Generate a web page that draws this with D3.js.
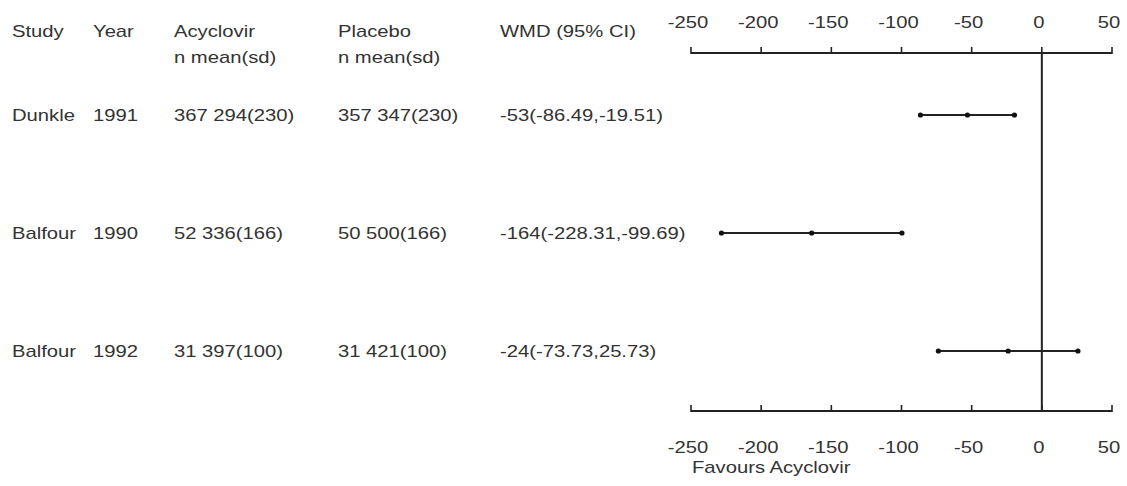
<!DOCTYPE html>
<html>
<head>
<meta charset="utf-8">
<script src="https://cdn.jsdelivr.net/npm/d3@7"></script>
<style>
  body { margin: 0; background: #fff; }
  text { font-family: "Liberation Sans", Arial, sans-serif; font-size: 17px; fill: #333; }
</style>
</head>
<body>
<script>
const studies = ['Dunkle', 'Balfour', 'Balfour']
const years = ['1991', '1990', '1992']
const acyclovir = ['367 294(230)', '52 336(166)', '31 397(100)']
const placebo = ['357 347(230)', '50 500(166)', '31 421(100)']
const wmd = [-53, -164, -24]
const lower = [-86.49, -228.31, -73.73]
const upper = [-19.51, -99.69, 25.73]
const wmdLabels = ['-53(-86.49,-19.51)', '-164(-228.31,-99.69)', '-24(-73.73,25.73)']
const xTicks = [-250, -200, -150, -100, -50, 0, 50]

const width = 1127, height = 486
const stretch = 1.19
const cols = { study: 12, year: 93, acy: 174, pla: 338, wmd: 500 }

const svg = d3.select('body').append('svg')
    .attr('width', width)
    .attr('height', height)

const x = d3.scaleLinear()
    .domain([-250, 50])
    .range([691, 1112])

const y = d3.scalePoint()
    .domain(d3.range(studies.length))
    .range([115, 351])

const topY = 53, bottomY = 411

const label = (g, tx, ty, str, anchor) => g.append('text')
    .attr('transform', `translate(${tx},${ty}) scale(${stretch},1)`)
    .attr('text-anchor', anchor || 'start')
    .text(str)

// header
label(svg, cols.study, 37, 'Study')
label(svg, cols.year, 37, 'Year')
label(svg, cols.acy, 37, 'Acyclovir')
label(svg, cols.acy, 63, 'n mean(sd)')
label(svg, cols.pla, 37, 'Placebo')
label(svg, cols.pla, 63, 'n mean(sd)')
label(svg, cols.wmd, 37, 'WMD (95% CI)')

// rows
studies.forEach((s, i) => {
    const ty = y(i) + 6
    label(svg, cols.study, ty, s)
    label(svg, cols.year, ty, years[i])
    label(svg, cols.acy, ty, acyclovir[i])
    label(svg, cols.pla, ty, placebo[i])
    label(svg, cols.wmd, ty, wmdLabels[i])
})

// axes (drawn by hand to keep ticks pointing up on both)
const drawAxis = (ay, labelY) => {
    const g = svg.append('g')
    g.append('line')
        .attr('x1', x(-250)).attr('x2', x(50))
        .attr('y1', ay).attr('y2', ay)
        .attr('stroke', '#222').attr('stroke-width', 2)
    xTicks.forEach(t => {
        g.append('line')
            .attr('x1', x(t)).attr('x2', x(t))
            .attr('y1', ay - 6).attr('y2', ay + 1)
            .attr('stroke', '#222').attr('stroke-width', 1.6)
        label(g, x(t) - 3, labelY, String(t), 'middle')
    })
}
drawAxis(topY, 28)
drawAxis(bottomY, 453)

label(svg, x(-250) + 1, 473, 'Favours Acyclovir')

// line of no effect
svg.append('line')
    .attr('x1', x(0)).attr('x2', x(0))
    .attr('y1', topY).attr('y2', bottomY)
    .attr('stroke', '#222').attr('stroke-width', 2)

// CIs
const ci = svg.selectAll('.ci')
    .data(d3.range(studies.length)).enter()
    .append('g')
    .attr('class', 'ci')

ci.append('line')
    .attr('x1', i => x(lower[i]))
    .attr('x2', i => x(upper[i]))
    .attr('y1', i => y(i)).attr('y2', i => y(i))
    .attr('stroke', '#222').attr('stroke-width', 2)

ci.selectAll('circle')
    .data(i => [lower[i], wmd[i], upper[i]].map(v => ({ v, i })))
    .enter().append('circle')
    .attr('cx', d => x(d.v))
    .attr('cy', d => y(d.i))
    .attr('r', 2.6)
    .attr('fill', '#111')
</script>
</body>
</html>
